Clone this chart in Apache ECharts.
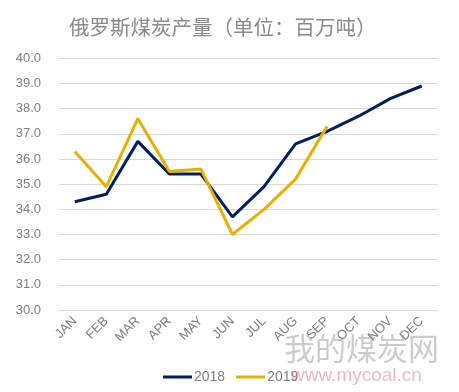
<!DOCTYPE html>
<html><head><meta charset="utf-8">
<script src="https://cdn.jsdelivr.net/npm/echarts@6/dist/echarts.min.js"></script>
<style>html,body{margin:0;padding:0;background:#fff}#c{width:459px;height:392px}</style>
</head><body><div id="c"></div>
<script>
var categories = ['JAN','FEB','MAR','APR','MAY','JUN','JUL','AUG','SEP','OCT','NOV','DEC'];
var values2018 = [34.3,34.6,36.7,35.4,35.4,33.7,34.9,36.6,37.1,37.7,38.4,38.9];
var values2019 = [36.3,34.9,37.6,35.5,35.6,33.0,34.0,35.2,37.3,null,null,null];
var seriesNames = ['2018','2019'];
var titleText = '俄罗斯煤炭产量（单位：百万吨）';
var yMin = 30, yMax = 40, yStep = 1;

var chart = echarts.init(document.getElementById('c'), null, {renderer:'canvas'});
var grey = '#7f7f7f';
chart.setOption({
  animation:false,
  backgroundColor:'#fff',
  title:{text:titleText,left:64,top:12,textStyle:{fontSize:20.5,fontWeight:'normal',color:'#8a8a8a',fontFamily:'Noto Sans CJK SC'}},
  grid:{left:59,right:21.5,top:58.3,bottom:82,containLabel:false},
  legend:{bottom:3,left:158,itemWidth:29,itemHeight:3,itemGap:11,icon:'rect',
    textStyle:{fontSize:14,color:grey,fontFamily:'Liberation Sans',padding:[0,0,0,-3]},data:seriesNames},
  graphic:[
    {type:'text',left:284,top:333,style:{text:'我的煤炭网',fontSize:31,fill:'rgba(140,140,140,0.45)',fontFamily:'Noto Sans CJK SC'},z:100},
    {type:'text',left:291,top:366,style:{text:'www.mycoal.cn',fontSize:19,fill:'rgba(220,120,130,0.5)',fontFamily:'Liberation Sans'},z:100}
  ],
  xAxis:{type:'category',data:categories,boundaryGap:true,
    axisLine:{show:true,lineStyle:{color:'#d9d9d9'}},axisTick:{show:false},
    axisLabel:{rotate:45,margin:9,fontSize:13,color:grey,fontFamily:'Liberation Sans',interval:0}},
  yAxis:{type:'value',min:yMin,max:yMax,interval:yStep,
    axisLine:{show:false},axisTick:{show:false},
    splitLine:{lineStyle:{color:'#d9d9d9',width:1}},
    axisLabel:{formatter:function(v){return v.toFixed(1);},fontSize:13,color:grey,margin:18,fontFamily:'Liberation Sans'}},
  series:[
    {name:seriesNames[0],type:'line',data:values2018,symbol:'none',lineStyle:{width:3,color:'#002060'},itemStyle:{color:'#002060'}},
    {name:seriesNames[1],type:'line',data:values2019,symbol:'none',lineStyle:{width:3,color:'#E8B000'},itemStyle:{color:'#E8B000'}}
  ]
});
</script></body></html>
